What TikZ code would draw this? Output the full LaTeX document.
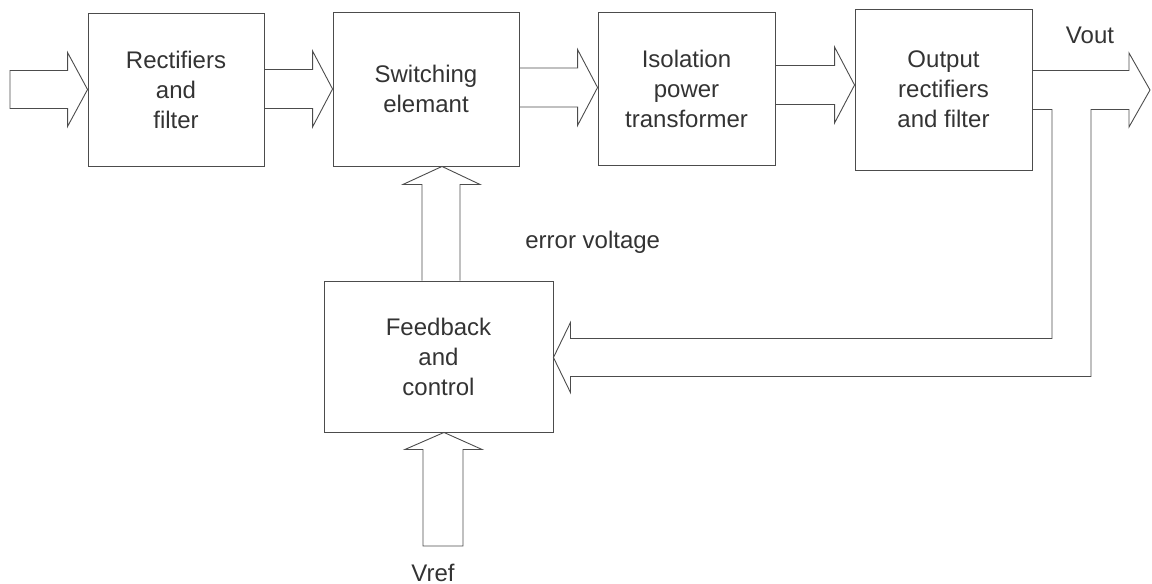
\documentclass[tikz,border=0pt]{standalone}
\usepackage{fontspec}
\setmainfont{Liberation Sans}
\usetikzlibrary{calc}
\tikzset{
  blk/.style={draw=black!70, line width=0.45pt, align=center,
    font=\fontsize{12}{15}\selectfont, text=black!80, inner sep=0pt},
  lbl/.style={font=\fontsize{12}{15}\selectfont, text=black!80, inner sep=0pt},
  barrow/.style={draw=black!70, line width=0.45pt, line join=miter},
}
\newcommand{\harrow}[2]{%
  \draw[barrow] let \p1=#1, \p2=#2 in
    (\x1,\y2+9.75pt) -- (\x2-10pt,\y2+9.75pt) -- (\x2-10pt,\y2+19pt) -- (\x2,\y2)
    -- (\x2-10pt,\y2-19pt) -- (\x2-10pt,\y2-9.75pt) -- (\x1,\y2-9.75pt);}
\begin{document}
\begin{tikzpicture}[x=0.5pt,y=-0.5pt]
\useasboundingbox (0,0) rectangle (1152,584);

\node[blk, minimum width=88pt, minimum height=76.5pt] (b1) at (176,89.5) {Rectifiers\\and\\filter};
\node[blk, minimum width=93pt, minimum height=77pt] (b2) at (426,89) {Switching\\elemant};
\node[blk, minimum width=88.5pt, minimum height=76.5pt] (b3) at (686.5,88.5) {Isolation\\power\\transformer};
\node[blk, minimum width=88.5pt, minimum height=80.5pt] (b4) at (943.5,89.5) {Output\\rectifiers\\and filter};
\node[blk, minimum width=114.5pt, minimum height=75.5pt] (b5) at (438.5,356.5) {Feedback\\and\\control};

\node[lbl] (vout) at (1090,35) {Vout};
\node[lbl, anchor=west] (err) at (525,242) {error voltage};
\node[lbl] (vref) at (433,573) {Vref};

\coordinate (in) at (10,90);
\coordinate (vtip) at (1150,90);
\coordinate (fbo) at (1091,0);
\coordinate (fbi) at (1052,0);
\coordinate (vbot) at (443,546);

% input arrow
\draw[barrow] let \p1=(in), \p2=(b1.west) in
  (\x1,\y2+9.5pt) -- (\x2-10pt,\y2+9.5pt) -- (\x2-10pt,\y2+18.5pt) -- (\x2,\y2)
  -- (\x2-10pt,\y2-18.5pt) -- (\x2-10pt,\y2-9.5pt) -- (\x1,\y2-9.5pt) -- cycle;

% forward arrows
\harrow{(b1.east)}{(b2.west)}
\harrow{(b2.east)}{($(b3.west)+(0,-1)$)}
\harrow{(b3.east)}{($(b4.west)+(0,-4.5)$)}

% Vout arrow with feedback branch
\draw[barrow] let \p1=(b4.east), \p2=(vtip), \p3=(b5.east), \p4=(fbo), \p5=(fbi) in
  (\x1,\y2+9.75pt) -- (\x2-10.5pt,\y2+9.75pt) -- (\x2-10.5pt,\y2+18.5pt) -- (\x2,\y2)
  -- (\x2-10.5pt,\y2-18.5pt) -- (\x2-10.5pt,\y2-9.75pt) -- (\x4,\y2-9.75pt)
  -- (\x4,\y3-10pt) -- (\x3+8.5pt,\y3-10pt) -- (\x3+8.5pt,\y3-18pt) -- (\x3,\y3-0.5pt)
  -- (\x3+8.5pt,\y3+17pt) -- (\x3+8.5pt,\y3+9pt) -- (\x5,\y3+9pt)
  -- (\x5,\y2-9.75pt) -- (\x1,\y2-9.75pt);

% error voltage arrow
\draw[barrow] let \p1=(b5.north), \p2=($(b2.south)+(16,0)$) in
  (\x2-10pt,\y1) -- (\x2-10pt,\y2-9pt) -- (\x2-19.5pt,\y2-9pt) -- (\x2,\y2)
  -- (\x2+19pt,\y2-9pt) -- (\x2+9pt,\y2-9pt) -- (\x2+9pt,\y1);

% Vref arrow
\draw[barrow] let \p1=(vbot), \p2=($(b5.south)+(5.5,0)$) in
  (\x2-10.5pt,\y1) -- (\x2-10.5pt,\y2-8.5pt) -- (\x2-19.5pt,\y2-8.5pt) -- (\x2,\y2)
  -- (\x2+19pt,\y2-8.5pt) -- (\x2+9.5pt,\y2-8.5pt) -- (\x2+9.5pt,\y1) -- cycle;
\end{tikzpicture}
\end{document}
